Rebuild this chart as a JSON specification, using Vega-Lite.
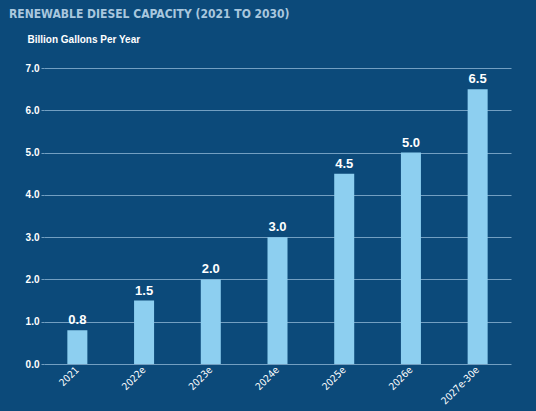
{
  "$schema": "https://vega.github.io/schema/vega-lite/v6.json",
  "description": "Renewable diesel capacity 2021 to 2030, billion gallons per year",
  "autosize": {"type": "none"},
  "padding": {"left": 44, "top": 68, "right": 25, "bottom": 47},
  "width": 467,
  "height": 296,
  "background": "#0c4a7a",
  "title": {
    "text": "RENEWABLE DIESEL CAPACITY (2021 TO 2030)",
    "anchor": "start",
    "frame": "group",
    "dx": -35,
    "offset": 13,
    "font": "DejaVu Sans Condensed, Liberation Sans",
    "fontSize": 12,
    "fontWeight": "bold",
    "color": "#a9c7de"
  },
  "data": {
    "values": [
      {"year": "2021", "capacity": 0.8},
      {"year": "2022e", "capacity": 1.5},
      {"year": "2023e", "capacity": 2.0},
      {"year": "2024e", "capacity": 3.0},
      {"year": "2025e", "capacity": 4.5},
      {"year": "2026e", "capacity": 5.0},
      {"year": "2027e-30e", "capacity": 6.5}
    ]
  },
  "encoding": {
    "x": {
      "field": "year",
      "type": "nominal",
      "sort": null,
      "scale": {"paddingInner": 0.7, "paddingOuter": 0.35},
      "axis": {
        "title": null,
        "labelAngle": -45,
        "labelAlign": "right",
        "labelBaseline": "middle",
        "labelFont": "DejaVu Sans Condensed, Liberation Sans",
        "labelFontSize": 10,
        "labelColor": "#ffffff",
        "labelPadding": 4,
        "ticks": false,
        "domain": false
      }
    },
    "y": {
      "field": "capacity",
      "type": "quantitative",
      "scale": {"domain": [0, 7]},
      "axis": {
        "title": "Billion Gallons Per Year",
        "titleAngle": 0,
        "titleAlign": "left",
        "titleBaseline": "alphabetic",
        "titleX": -17,
        "titleY": -26,
        "titleFont": "Liberation Sans",
        "titleFontSize": 10,
        "titleFontWeight": "bold",
        "titleColor": "#ffffff",
        "values": [0, 1, 2, 3, 4, 5, 6, 7],
        "format": ".1f",
        "labelFont": "Liberation Sans",
        "labelFontSize": 10,
        "labelFontWeight": "bold",
        "labelColor": "#ffffff",
        "labelPadding": 2,
        "tickSize": 3,
        "tickColor": "#739fc1",
        "gridColor": "#739fc1",
        "gridWidth": 1,
        "domain": false
      }
    }
  },
  "layer": [
    {"mark": {"type": "bar", "color": "#8dcff0"}},
    {
      "mark": {
        "type": "text",
        "dy": -10,
        "font": "Liberation Sans",
        "fontSize": 13,
        "fontWeight": "bold",
        "color": "#ffffff"
      },
      "encoding": {"text": {"field": "capacity", "type": "quantitative", "format": ".1f"}}
    }
  ],
  "config": {"view": {"stroke": null}}
}
